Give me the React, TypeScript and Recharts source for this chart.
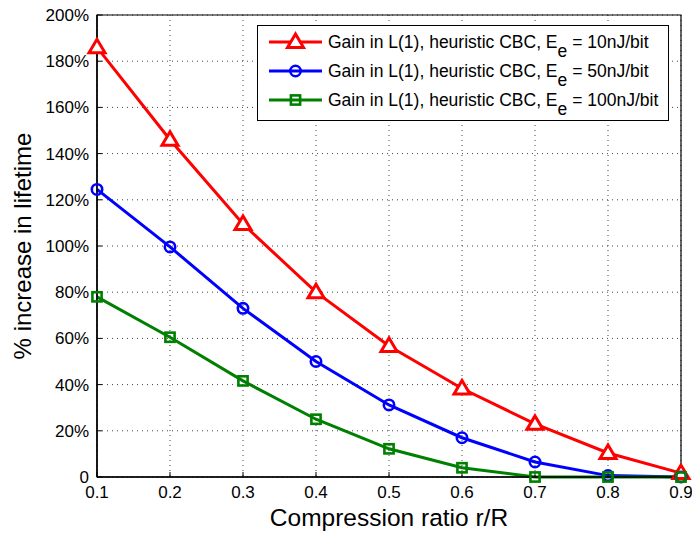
import React from "react";
import {
  CartesianGrid,
  Line,
  LineChart,
  ReferenceArea,
  XAxis,
  YAxis
} from "recharts";

const ratios = [0.1, 0.2, 0.3, 0.4, 0.5, 0.6, 0.7, 0.8, 0.9];
const gain10 = [186, 146, 109.5, 80, 56.7, 38.3, 23, 10.4, 1.7];
const gain50 = [124.5, 99.6, 73, 50, 31.2, 17, 6.5, 0.6, 0];
const gain100 = [78, 60.5, 41.6, 25, 12.2, 4, 0, 0, 0];

const xTicks = [0.1, 0.2, 0.3, 0.4, 0.5, 0.6, 0.7, 0.8, 0.9];
const yTicks = [0, 20, 40, 60, 80, 100, 120, 140, 160, 180, 200];

const seriesInfo = [
  { key: "e10", energy: "10nJ/bit", color: "#ff0000", marker: "triangle" },
  { key: "e50", energy: "50nJ/bit", color: "#0000ff", marker: "circle" },
  { key: "e100", energy: "100nJ/bit", color: "#008000", marker: "square" }
];

const data = ratios.map((r, i) => ({
  r,
  e10: gain10[i],
  e50: gain50[i],
  e100: gain100[i]
}));

const FONT = "'Liberation Sans', Arial, Helvetica, sans-serif";

function Marker({ cx, cy, color, marker }: any) {
  if (cx == null || cy == null) return null;
  if (marker === "triangle") {
    return (
      <polygon
        points={`${cx},${cy - 8} ${cx - 8},${cy + 5.5} ${cx + 8},${cy + 5.5}`}
        fill="#fff"
        stroke={color}
        strokeWidth={3}
        strokeLinejoin="miter"
      />
    );
  }
  if (marker === "circle") {
    return <circle cx={cx} cy={cy} r={5.2} fill="none" stroke={color} strokeWidth={2.6} />;
  }
  return (
    <rect x={cx - 4.6} y={cy - 4.6} width={9.2} height={9.2} fill="none" stroke={color} strokeWidth={2.6} />
  );
}

function LegendBox() {
  return (
    <div
      style={{
        position: "absolute",
        left: 257,
        top: 25,
        border: "1px solid #000",
        background: "#fff",
        width: 410,
        height: 92,
        fontFamily: FONT,
        fontSize: 17.5,
        color: "#000",
        paddingTop: 2
      }}
    >
      {seriesInfo.map((s) => (
        <div
          key={s.key}
          style={{ display: "flex", alignItems: "center", height: 29, whiteSpace: "nowrap" }}
        >
          <svg width={70} height={29} style={{ flexShrink: 0 }}>
            <line x1={11} x2={64} y1={14} y2={14} stroke={s.color} strokeWidth={3} />
            <Marker cx={37.5} cy={14} color={s.color} marker={s.marker} />
          </svg>
          <span>
            Gain in L(1), heuristic CBC, E
            <sub style={{ fontSize: 17.5, verticalAlign: "-0.5em", lineHeight: 0 }}>e</sub> = {s.energy}
          </span>
        </div>
      ))}
    </div>
  );
}

export default function App() {
  return (
    <div style={{ position: "absolute", left: 0, top: 0, width: 692, height: 534, background: "#fff" }}>
      <LineChart
        width={692}
        height={534}
        data={data}
        margin={{ top: 15, right: 11, bottom: 0, left: 0 }}
        style={{ fontFamily: FONT }}
      >
        <CartesianGrid stroke="#444" strokeDasharray="1 4" />
        <XAxis
          dataKey="r"
          type="number"
          domain={[0.1, 0.9]}
          ticks={xTicks}
          tickFormatter={(v: number) => v.toFixed(1)}
          height={57}
          tickSize={-5}
          tickLine={{ stroke: "#000" }}
          axisLine={{ stroke: "#000", strokeWidth: 1.5 }}
          tickMargin={14}
          tick={{ fill: "#000", fontSize: 17 }}
          label={{
            value: "Compression ratio r/R",
            position: "insideBottom",
            offset: 8,
            fill: "#000",
            fontSize: 24.5
          }}
        />
        <XAxis
          xAxisId="top"
          orientation="top"
          dataKey="r"
          type="number"
          domain={[0.1, 0.9]}
          ticks={xTicks}
          height={0}
          tickSize={-5}
          tick={false}
          tickLine={{ stroke: "#000" }}
          axisLine={false}
        />
        <YAxis
          type="number"
          domain={[0, 200]}
          ticks={yTicks}
          width={97}
          tickSize={-5}
          tickLine={{ stroke: "#000" }}
          tickMargin={13}
          axisLine={{ stroke: "#000", strokeWidth: 1.5 }}
          tickFormatter={(v: number) => (v === 0 ? "0" : `${v}%`)}
          tick={{ fill: "#000", fontSize: 17 }}
          label={{
            value: "% increase in lifetime",
            angle: -90,
            position: "insideLeft",
            offset: 22,
            style: { textAnchor: "middle" },
            fill: "#000",
            fontSize: 24
          }}
        />
        <YAxis
          yAxisId="right"
          orientation="right"
          type="number"
          domain={[0, 200]}
          ticks={yTicks}
          width={0}
          tickSize={-5}
          tick={false}
          tickLine={{ stroke: "#000" }}
          axisLine={false}
        />
        <ReferenceArea
          x1={0.1}
          x2={0.9}
          y1={0}
          y2={200}
          fill="none"
          stroke="#000"
          strokeWidth={1.2}
          ifOverflow="visible"
        />
        {seriesInfo.map((s) => (
          <Line
            key={s.key}
            dataKey={s.key}
            stroke={s.color}
            strokeWidth={3}
            isAnimationActive={false}
            dot={(p: any) => <Marker key={`${s.key}-${p.index}`} cx={p.cx} cy={p.cy} color={s.color} marker={s.marker} />}
            activeDot={false}
          />
        ))}
      </LineChart>
      <LegendBox />
    </div>
  );
}
